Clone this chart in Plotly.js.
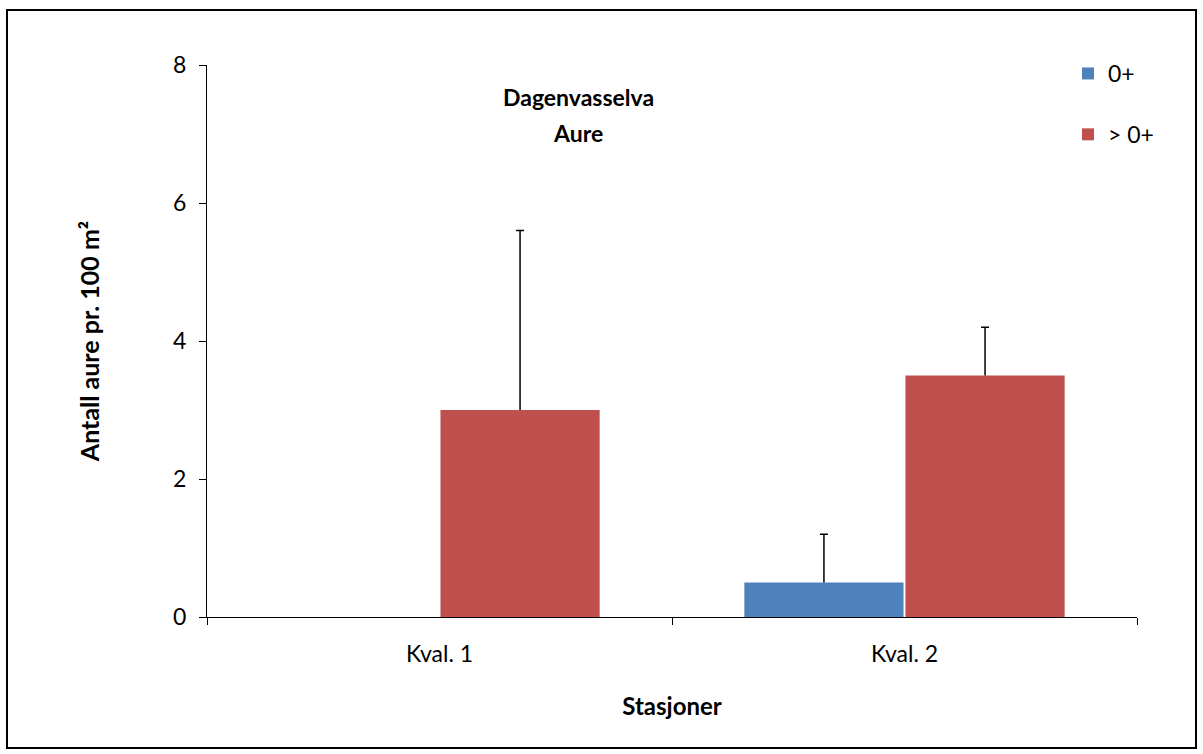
<!DOCTYPE html>
<html>
<head>
<meta charset="utf-8">
<script src="https://cdn.plot.ly/plotly-3.0.1.min.js"></script>
<style>
  html, body { margin: 0; padding: 0; background: #fff; }
  #chart { width: 1203px; height: 754px; }
</style>
</head>
<body>
<div id="chart"></div>
<script>
const categories = ["Kval. 1", "Kval. 2"];
const seriesNames = ["0+", "> 0+"];
const values0 = [0, 0.5];
const errors0 = [0, 0.7];
const values1 = [3.0, 3.5];
const errors1 = [2.6, 0.7];
const yTicks = [0, 2, 4, 6, 8];

const FONT = "Lato, 'Open Sans', 'Liberation Sans', sans-serif";

const W = 930, H = 552, L = 207, T = 65;
function px(x) { return (x - L) / W; }
function py(y) { return (T + H - y) / H; }

const traces = [
  {
    type: "bar", name: seriesNames[0], x: categories, y: values0,
    marker: { color: "#4F81BD" }, legendgroup: "a",
    error_y: { type: "data", array: errors0, symmetric: false, arrayminus: [0, 0],
      color: "#000", thickness: 1.5, width: 4 }
  },
  {
    type: "bar", name: seriesNames[1], x: categories, y: values1,
    marker: { color: "#C0504D" }, legendgroup: "b",
    error_y: { type: "data", array: errors1, symmetric: false, arrayminus: [0, 0],
      color: "#000", thickness: 1.5, width: 4 }
  }
];

const layout = {
  width: 1203, height: 754,
  margin: { l: 207, r: 66, t: 65, b: 137 },
  paper_bgcolor: "#fff", plot_bgcolor: "#fff",
  font: { family: FONT, color: "#000", size: 22 },
  barmode: "group", bargap: 0.307, bargroupgap: 0.012,
  showlegend: true,
  legend: { x: px(1068), y: py(52), xanchor: "left", yanchor: "top",
    font: { family: FONT, size: 23, color: "#000" }, tracegroupgap: 28,
    itemwidth: 30, bgcolor: "rgba(0,0,0,0)" },
  xaxis: {
    type: "category", showline: true, linecolor: "#000", linewidth: 1,
    ticks: "outside", tickson: "boundaries", ticklen: 7, tickcolor: "#000",
    showgrid: false, zeroline: false, ticklabelstandoff: 16,
    tickfont: { family: FONT, size: 23, color: "#000" },
    title: { text: "<b>Stasjoner</b>", font: { family: FONT, size: 24, color: "#000" }, standoff: 32 }
  },
  yaxis: {
    range: [0, 8], tickvals: yTicks, ticktext: yTicks.map(String),
    showline: true, linecolor: "#000", linewidth: 1,
    ticks: "outside", ticklen: 7, tickcolor: "#000",
    showgrid: false, zeroline: false, ticklabelstandoff: 8,
    tickfont: { family: FONT, size: 23, color: "#000" },
    title: { text: "<b>Antall aure pr. 100 m²</b>", font: { family: FONT, size: 25, color: "#000" }, standoff: 66 }
  },
  annotations: [
    { xref: "paper", yref: "paper", x: px(578), y: py(97), text: "<b>Dagenvasselva</b>",
      showarrow: false, font: { family: FONT, size: 23, color: "#000" }, xanchor: "center", yanchor: "middle" },
    { xref: "paper", yref: "paper", x: px(578), y: py(133), text: "<b>Aure</b>",
      showarrow: false, font: { family: FONT, size: 23, color: "#000" }, xanchor: "center", yanchor: "middle" }
  ],
  shapes: [
    { type: "rect", xref: "paper", yref: "paper", x0: px(7), x1: px(1196), y0: py(748), y1: py(10),
      line: { color: "#000", width: 2 }, fillcolor: "rgba(0,0,0,0)", layer: "below" }
  ]
};

Plotly.newPlot("chart", traces, layout, { displayModeBar: false, staticPlot: true }).then(function (gd) {
  // Excel-style error bars: cap only at the top end, none at the bar value.
  gd.querySelectorAll(".errorbar path.yerror").forEach(function (p) {
    const d = p.getAttribute("d") || "";
    const m = d.match(/^M([-\d.]+),([-\d.]+)h([-\d.]+)m([-\d.]+),0V([-\d.]+)/);
    if (m) {
      if (Math.abs(parseFloat(m[2]) - parseFloat(m[5])) < 0.5) {
        p.setAttribute("d", "");
      } else {
        p.setAttribute("d", m[0]);
      }
    }
  });
});
</script>
</body>
</html>
